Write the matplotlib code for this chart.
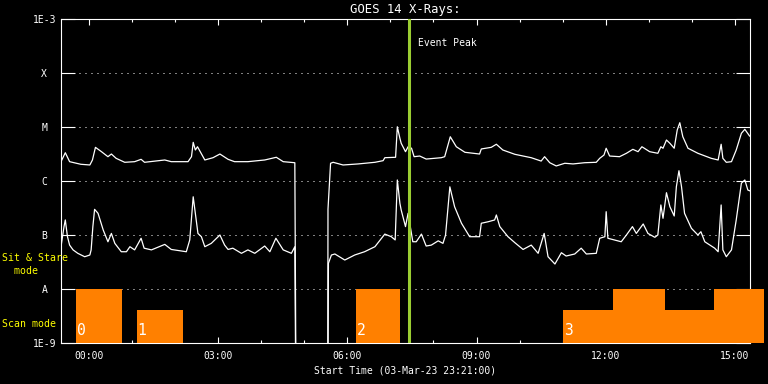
import matplotlib
matplotlib.use('Agg')
from matplotlib import pyplot as plt
from matplotlib.ticker import NullLocator

plt.rcParams['font.family'] = 'DejaVu Sans Mono'

# time axis: hours after start time 03-Mar-23 23:21:00
# long channel (1-8 A), W/m^2 ; 1e-12 marks the data gap (below plot)
t_long = [0.00, 0.10, 0.20, 0.46, 0.67, 0.73, 0.80, 0.94, 1.09, 1.17, 1.28, 1.48, 1.71, 1.86, 1.94,
          2.41, 2.56, 2.95, 3.03, 3.07, 3.12, 3.17, 3.34, 3.53, 3.69, 3.88, 4.03, 4.34, 4.73, 5.00,
          5.16, 5.43, 5.47, 6.19, 6.20, 6.26, 6.32, 6.55, 6.90, 7.29, 7.48, 7.52, 7.77, 7.81, 7.87,
          7.90, 8.00, 8.06, 8.14, 8.20, 8.33, 8.48, 8.83, 8.91, 9.04, 9.18, 9.38, 9.72, 9.76, 9.99,
          10.11, 10.26, 10.54, 10.92, 11.15, 11.23, 11.35, 11.50, 11.70, 11.89, 12.16, 12.43, 12.51,
          12.61, 12.66, 12.74, 12.97, 13.13, 13.28, 13.40, 13.49, 13.67, 13.86, 13.93, 13.98, 14.06,
          14.14, 14.24, 14.31, 14.37, 14.44, 14.56, 14.79, 15.10, 15.26, 15.33, 15.37, 15.45, 15.57,
          15.68, 15.80, 15.88, 15.99]
flux_long = [2.28e-6, 3.34e-6, 2.28e-6, 2.04e-6, 1.98e-6, 2.45e-6, 4.2e-6, 3.49e-6, 2.82e-6, 3.16e-6,
             2.63e-6, 2.22e-6, 2.28e-6, 2.52e-6, 2.22e-6, 2.45e-6, 2.28e-6, 2.28e-6, 2.82e-6, 5.2e-6,
             3.75e-6, 4.31e-6, 2.45e-6, 2.70e-6, 3.16e-6, 2.52e-6, 2.28e-6, 2.28e-6, 2.45e-6, 2.75e-6,
             2.28e-6, 2.18e-6, 1e-12, 1e-12, 3e-7, 2.13e-6, 2.22e-6, 1.98e-6, 2.07e-6, 2.22e-6,
             2.38e-6, 2.70e-6, 2.75e-6, 1.01e-5, 6.18e-6, 4.99e-6, 3.49e-6, 4.31e-6, 4.04e-6, 2.82e-6,
             2.90e-6, 2.55e-6, 2.70e-6, 2.82e-6, 6.6e-6, 4.31e-6, 3.40e-6, 3.16e-6, 3.92e-6, 4.2e-6,
             4.79e-6, 3.75e-6, 3.12e-6, 2.70e-6, 2.34e-6, 2.82e-6, 2.18e-6, 1.90e-6, 2.13e-6, 2.07e-6,
             2.18e-6, 2.22e-6, 2.63e-6, 3.03e-6, 4.04e-6, 2.90e-6, 2.82e-6, 3.26e-6, 3.86e-6, 3.49e-6,
             4.31e-6, 3.49e-6, 3.26e-6, 4.31e-6, 4.04e-6, 5.74e-6, 4.99e-6, 4.04e-6, 8.8e-6, 1.20e-5,
             6.6e-6, 4.04e-6, 3.26e-6, 2.63e-6, 2.45e-6, 4.79e-6, 2.63e-6, 2.22e-6, 2.28e-6, 3.75e-6,
             7.64e-6, 9.06e-6, 6.81e-6]

# short channel (0.5-4 A)
t_short = [0.00, 0.07, 0.10, 0.15, 0.20, 0.28, 0.39, 0.55, 0.67, 0.70, 0.74, 0.78, 0.86, 0.98, 1.09,
           1.17, 1.25, 1.40, 1.52, 1.60, 1.71, 1.86, 1.93, 2.10, 2.41, 2.56, 2.91, 2.99, 3.07, 3.12,
           3.18, 3.26, 3.34, 3.49, 3.69, 3.80, 3.88, 3.99, 4.19, 4.34, 4.50, 4.73, 4.85, 4.99, 5.16,
           5.35, 5.43, 5.47, 6.19, 6.21, 6.28, 6.36, 6.59, 6.82, 7.05, 7.29, 7.52, 7.67, 7.76, 7.81,
           7.87, 7.90, 8.00, 8.06, 8.17, 8.25, 8.37, 8.48, 8.60, 8.76, 8.87, 8.93, 9.03, 9.14, 9.30,
           9.49, 9.72, 9.76, 9.92, 10.07, 10.11, 10.19, 10.38, 10.54, 10.73, 10.92, 11.08, 11.22,
           11.31, 11.47, 11.62, 11.73, 11.93, 12.08, 12.20, 12.43, 12.51, 12.63, 12.66, 12.70, 13.01,
           13.13, 13.27, 13.36, 13.52, 13.63, 13.79, 13.86, 13.93, 13.98, 14.06, 14.14, 14.24, 14.29,
           14.35, 14.41, 14.48, 14.64, 14.79, 14.86, 14.95, 15.18, 15.26, 15.33, 15.37, 15.45, 15.57,
           15.68, 15.80, 15.88, 15.95, 15.99]
flux_short = [6.07e-8, 1.43e-7, 1.9e-7, 9.3e-8, 6.5e-8, 5.3e-8, 4.58e-8, 3.96e-8, 4.26e-8, 5.3e-8,
              1.43e-7, 2.99e-7, 2.52e-7, 1.24e-7, 7.5e-8, 1.07e-7, 7.0e-8, 4.9e-8, 4.9e-8, 6.07e-8,
              5.3e-8, 8.7e-8, 5.7e-8, 5.3e-8, 6.7e-8, 5.4e-8, 4.9e-8, 8.1e-8, 5.1e-7, 2.52e-7,
              1.07e-7, 9.3e-8, 6.07e-8, 7.0e-8, 1.0e-7, 6.5e-8, 5.4e-8, 5.7e-8, 4.58e-8, 5.3e-8,
              4.58e-8, 6.25e-8, 4.9e-8, 8.7e-8, 5.3e-8, 4.58e-8, 6.07e-8, 1e-12, 1e-12, 3.0e-8,
              4.26e-8, 4.45e-8, 3.44e-8, 4.26e-8, 4.9e-8, 6.07e-8, 1.04e-7, 9.3e-8, 8.1e-8, 1.045e-6,
              3.86e-7, 2.9e-7, 1.43e-7, 2.52e-7, 7.5e-8, 7.5e-8, 1.04e-7, 6.25e-8, 6.5e-8, 7.8e-8,
              7.0e-8, 1.0e-7, 7.8e-7, 3.34e-7, 1.65e-7, 9.3e-8, 9.3e-8, 1.65e-7, 1.76e-7, 1.9e-7,
              2.35e-7, 1.43e-7, 9.3e-8, 7.2e-8, 5.4e-8, 6.5e-8, 4.58e-8, 1.07e-7, 3.96e-8, 2.9e-8,
              4.7e-8, 4.08e-8, 4.45e-8, 5.7e-8, 4.45e-8, 4.58e-8, 8.7e-8, 9.3e-8, 2.7e-7, 8.7e-8,
              7.5e-8, 1.0e-7, 1.43e-7, 1.07e-7, 1.6e-7, 1.07e-7, 9.06e-8, 1.0e-7, 3.6e-7, 2.04e-7,
              6.07e-7, 3.34e-7, 2.25e-7, 7.8e-7, 1.55e-6, 7.8e-7, 2.52e-7, 1.33e-7, 1.0e-7, 1.15e-7,
              7.5e-8, 5.7e-8, 4.9e-8, 3.6e-7, 5.3e-8, 3.96e-8, 5.3e-8, 1.9e-7, 9.1e-7, 1.045e-6,
              6.8e-7, 6.6e-7]

# observing mode blocks (scan mode low, sit & stare high)
mode_start = [0.35, 1.76, 6.85, 11.66, 12.83, 14.03, 15.16]
mode_end = [1.41, 2.83, 7.87, 12.83, 14.03, 15.16, 16.33]
mode_top = [1e-8, 4.1e-9, 1e-8, 4.1e-9, 1e-8, 4.1e-9, 1e-8]
block_labels = ['0', '1', '2', '3']
block_starts = [0.35, 1.76, 6.85, 11.66]

event_peak = 8.07

level_vals = [1e-3, 1e-4, 1e-5, 1e-6, 1e-7, 1e-8, 1e-9]
level_names = ['1E-3', 'X', 'M', 'C', 'B', 'A', '1E-9']

hour_ticks = [0.65, 3.65, 6.65, 9.65, 12.65, 15.65]
hour_labels = ['00:00', '03:00', '06:00', '09:00', '12:00', '15:00']
minor_ticks = [0.65 + i for i in range(16)]

fig = plt.figure(figsize=(7.68, 3.84), dpi=100, facecolor='black')
ax = fig.add_axes([61/768, 41/384, 689/768, 324/384])
ax.set_facecolor('black')
ax.set_yscale('log')
ax.set_xlim(0, 16)
ax.set_ylim(1e-9, 1e-3)

ax.plot(t_long, flux_long, color='white', lw=0.9, zorder=2)
ax.plot(t_short, flux_short, color='white', lw=0.9, zorder=2)

widths = [e - s for s, e in zip(mode_start, mode_end)]
heights = [h - 1e-9 for h in mode_top]
ax.bar(mode_start, heights, width=widths, bottom=1e-9, align='edge',
       color='#ff8000', lw=0, zorder=3, clip_on=False)
for s, lab in zip(block_starts, block_labels):
    ax.text(s + 0.02, 1.22e-9, lab, color='white', fontsize=10.5, va='bottom', ha='left', zorder=4)

ax.axvline(event_peak, color='#9acd32', lw=2.2, zorder=5)
ax.text(event_peak + 0.22, 3.6e-4, 'Event Peak', color='white', fontsize=7, va='center')

ax.set_yticks(level_vals, level_names)
ax.yaxis.set_minor_locator(NullLocator())
ax.tick_params(axis='y', which='major', direction='in', length=10, width=0.8, colors='white',
               left=True, right=True, labelsize=7, pad=12)
for lab in ax.get_yticklabels():
    lab.set_horizontalalignment('center')
ax.grid(axis='y', which='major', color='white', linestyle=(0, (1, 5)), linewidth=0.72)

ax.set_xticks(hour_ticks, hour_labels)
ax.set_xticks(minor_ticks, minor=True)
ax.tick_params(axis='x', which='major', direction='in', length=4.3, width=0.8, colors='white',
               top=True, bottom=True, labelsize=7, pad=6)
ax.tick_params(axis='x', which='minor', direction='in', length=2, width=0.8, colors='white',
               top=True, bottom=True)

for sp in ax.spines.values():
    sp.set_color('white')
    sp.set_linewidth(0.8)
    sp.set_zorder(2.5)

ax.set_title('GOES 14 X-Rays:', color='white', fontsize=8.8, pad=4)
ax.set_xlabel('Start Time (03-Mar-23 23:21:00)', color='white', fontsize=7, labelpad=3)

fig.text(2/768, 1 - 258/384, 'Sit & Stare', color='yellow', fontsize=7.1, va='center', ha='left')
fig.text(2/768, 1 - 271/384, '  mode', color='yellow', fontsize=7.1, va='center', ha='left')
fig.text(2/768, 1 - 324/384, 'Scan mode', color='yellow', fontsize=7.1, va='center', ha='left')

fig.savefig('out.png', dpi=100, facecolor='black')
